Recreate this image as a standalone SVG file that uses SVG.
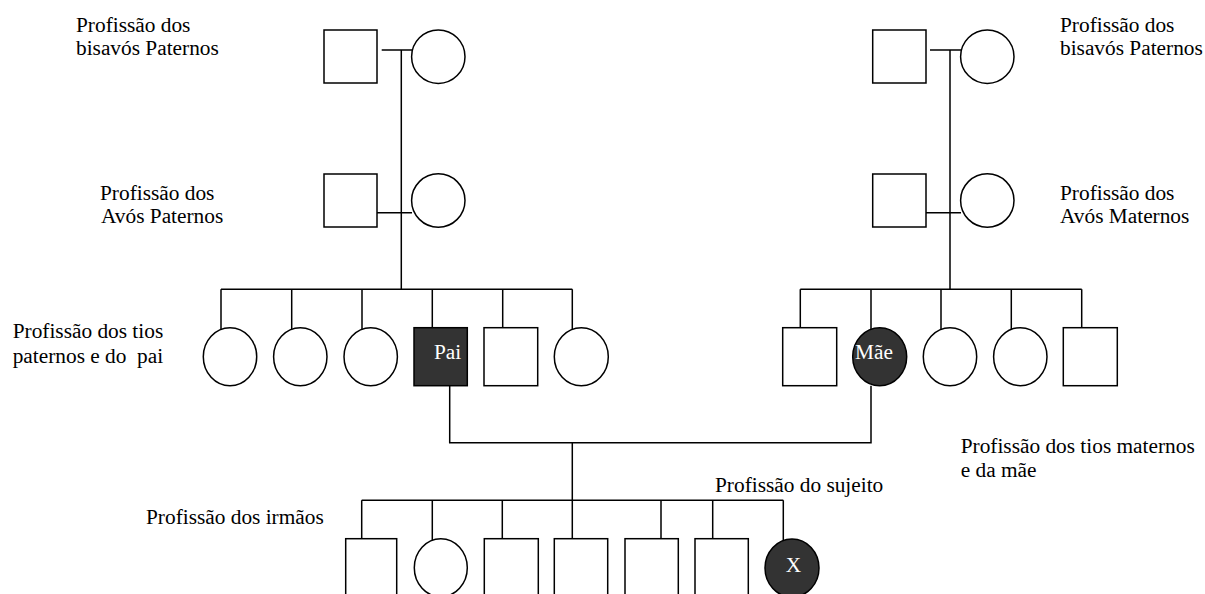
<svg xmlns="http://www.w3.org/2000/svg" width="1205" height="594" viewBox="0 0 1205 594">
<style>
.ln{stroke:#000;stroke-width:1.5;fill:none}
.sh{stroke:#000;stroke-width:1.5;fill:#fff}
.dk{stroke:#000;stroke-width:1.5;fill:#333}
</style>
<rect width="1205" height="594" fill="#fff"/>
<g id="connectors">
<path class="ln" d="M381.7 50H417M401.3 50V289.3M377 212.7H412"/>
<path class="ln" d="M930 50H966M950 50V289.3M926 212.7H961"/>
<path class="ln" d="M221 289.3H572.3M221 289.3V340M291.7 289.3V340M362 289.3V340M432.3 289.3V340M502.7 289.3V340M572.3 289.3V340"/>
<path class="ln" d="M800.3 289.3H1081.7M800.3 289.3V340M871 289.3V340M941 289.3V340M1011.3 289.3V340M1081.7 289.3V340"/>
<path class="ln" d="M449.7 385.7V442.7H871V385.7M572.3 442.7V500.3"/>
<path class="ln" d="M361.7 500.3H783.3M361.7 500.3V545M432.3 500.3V545M502.3 500.3V545M572.3 500.3V545M661 500.3V545M712.7 500.3V545M783.3 500.3V545"/>
</g>
<g font-family="Liberation Serif, Times New Roman, serif" font-size="21.33">
<g id="bisavos-paternos">
<rect class="sh" x="324" y="30" width="53" height="53"/>
<circle class="sh" cx="438.3" cy="56.7" r="26.7"/>
</g>
<g id="avos-paternos">
<rect class="sh" x="324" y="174" width="53" height="53"/>
<circle class="sh" cx="438.3" cy="200.5" r="26.7"/>
</g>
<g id="bisavos-maternos">
<rect class="sh" x="872.7" y="30" width="53.3" height="53"/>
<circle class="sh" cx="987.3" cy="56.7" r="26.7"/>
</g>
<g id="avos-maternos">
<rect class="sh" x="872.7" y="174" width="53.3" height="53"/>
<circle class="sh" cx="987.3" cy="200.5" r="26.7"/>
</g>
<g id="tios-paternos">
<ellipse class="sh" cx="230" cy="356.7" rx="26.7" ry="29"/>
<ellipse class="sh" cx="300.3" cy="356.7" rx="26.7" ry="29"/>
<ellipse class="sh" cx="370.7" cy="356.7" rx="26.7" ry="29"/>
<rect class="sh" x="484" y="327.7" width="53.7" height="58"/>
<ellipse class="sh" cx="581.3" cy="356.7" rx="27" ry="29"/>
</g>
<g id="pai">
<rect class="dk" x="414" y="327.7" width="53.3" height="58"/>
<text fill="#fff" x="434" y="359.3">Pai</text>
</g>
<g id="tios-maternos">
<rect class="sh" x="782.7" y="327.7" width="54" height="58"/>
<ellipse class="sh" cx="950" cy="356.7" rx="26.7" ry="29"/>
<ellipse class="sh" cx="1020.3" cy="356.7" rx="26.7" ry="29"/>
<rect class="sh" x="1063.3" y="327.7" width="54" height="58"/>
</g>
<g id="mae">
<ellipse class="dk" cx="879.7" cy="356.7" rx="27" ry="29"/>
<text fill="#fff" x="855" y="359.3">Mãe</text>
</g>
<g id="irmaos">
<rect class="sh" x="345.7" y="538.7" width="51" height="58"/>
<ellipse class="sh" cx="440.8" cy="567.7" rx="26.5" ry="29"/>
<rect class="sh" x="484.3" y="538.7" width="54" height="58"/>
<rect class="sh" x="554.3" y="538.7" width="53.4" height="58"/>
<rect class="sh" x="625" y="538.7" width="53.3" height="58"/>
<rect class="sh" x="695" y="538.7" width="53.3" height="58"/>
</g>
<g id="sujeito">
<ellipse class="dk" cx="792" cy="568" rx="27" ry="29"/>
<text fill="#fff" x="793.5" y="572.3" text-anchor="middle">X</text>
</g>
<g id="labels" fill="#000">
<text x="76" y="31.7">Profissão dos</text>
<text x="76" y="55">bisavós Paternos</text>
<text x="100" y="200">Profissão dos</text>
<text x="101" y="222.7">Avós Paternos</text>
<text x="12.7" y="338.3">Profissão dos tios</text>
<text x="12.7" y="363.3" xml:space="preserve">paternos e do  pai</text>
<text x="1060" y="31.7">Profissão dos</text>
<text x="1060" y="55">bisavós Paternos</text>
<text x="1060" y="200">Profissão dos</text>
<text x="1060" y="222.7">Avós Maternos</text>
<text x="960.7" y="453.3">Profissão dos tios maternos</text>
<text x="960.7" y="476.7">e da mãe</text>
<text x="715" y="491.7">Profissão do sujeito</text>
<text x="146" y="524">Profissão dos irmãos</text>
</g>
</g>
</svg>
